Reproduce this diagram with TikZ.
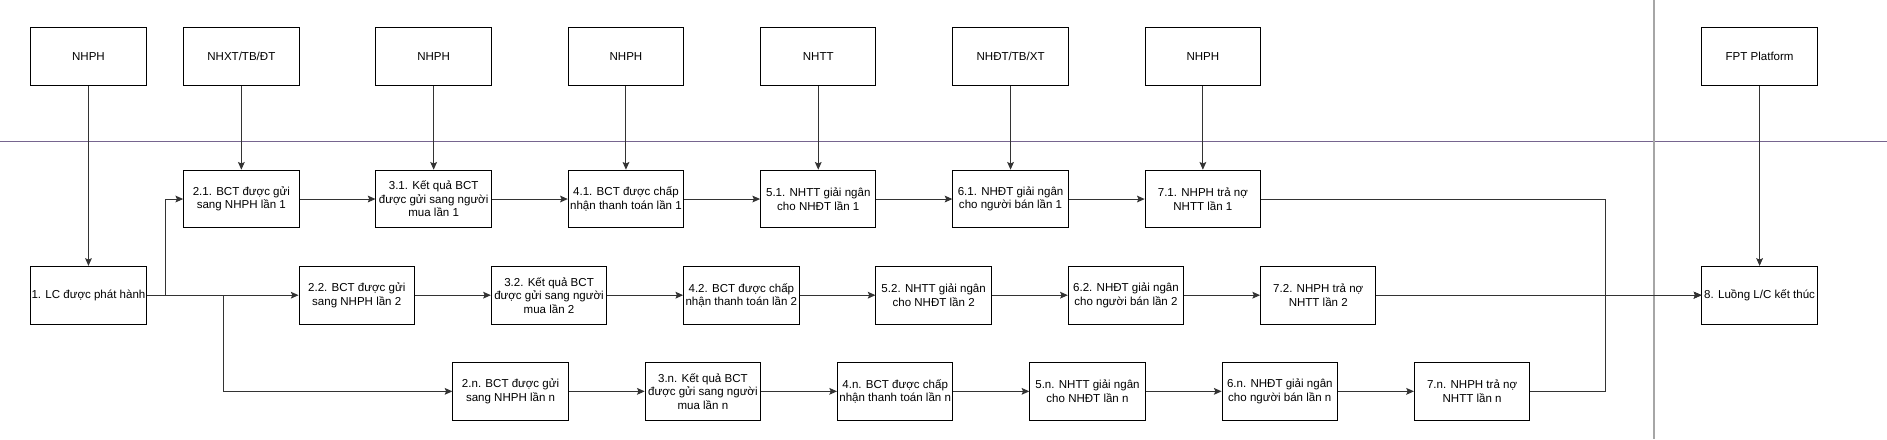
\documentclass[tikz,border=0pt]{standalone}
\usepackage{fontspec}
\setmainfont{Liberation Sans}
\usetikzlibrary{arrows.meta}
\definecolor{laneline}{HTML}{76658F}
\definecolor{divline}{HTML}{A6A6A6}
\tikzset{
  box/.style={draw=black, line width=1pt, minimum width=120pt, minimum height=60pt,
    inner sep=1pt, align=center, font=\fontsize{12pt}{14pt}\selectfont},
  conn/.style={draw=black!80, line width=1pt, -{Stealth[length=8pt,width=7pt,inset=1.5pt]}},
  plain/.style={draw=black!80, line width=1pt}
}
\begin{document}
\begin{tikzpicture}[x=1pt,y=-1pt]
\fill[white] (0,0) rectangle (1962.5,456.6);
\useasboundingbox (0,0) rectangle (1962.5,456.6);
% lane lines
\coordinate (hl1) at (0,147);
\coordinate (hl2) at (1962.5,147);
\coordinate (vl1) at (1720,0);
\coordinate (vl2) at (1720,456.6);
\draw[laneline, line width=1.2pt] (hl1) -- (hl2);
\draw[divline, line width=2pt] (vl1) -- (vl2);
% top row
\node[box] (t1) at (92,59) {NHPH};
\node[box] (t2) at (251,59) {NHXT/TB/ĐT};
\node[box] (t3) at (451,59) {NHPH};
\node[box] (t4) at (651,59) {NHPH};
\node[box] (t5) at (851,59) {NHTT};
\node[box] (t6) at (1051,59) {NHĐT/TB/XT};
\node[box] (t7) at (1251,59) {NHPH};
\node[box] (tf) at (1830,59) {FPT Platform};
% row 1
\node[box] (a2) at (251,207) {2.1. BCT được gửi\\sang NHPH lần 1};
\node[box] (a3) at (451,207) {3.1. Kết quả BCT\\được gửi sang người\\mua lần 1};
\node[box] (a4) at (651,207) {4.1. BCT được chấp\\nhận thanh toán lần 1};
\node[box] (a5) at (851,207) {5.1. NHTT giải ngân\\cho NHĐT lần 1};
\node[box] (a6) at (1051,207) {6.1. NHĐT giải ngân\\cho người bán lần 1};
\node[box] (a7) at (1251,207) {7.1. NHPH trả nợ\\NHTT lần 1};
% row 2
\node[box] (lc) at (92,307) {1. LC được phát hành};
\node[box] (b2) at (371,307) {2.2. BCT được gửi\\sang NHPH lần 2};
\node[box] (b3) at (571,307) {3.2. Kết quả BCT\\được gửi sang người\\mua lần 2};
\node[box] (b4) at (771,307) {4.2. BCT được chấp\\nhận thanh toán lần 2};
\node[box] (b5) at (971,307) {5.2. NHTT giải ngân\\cho NHĐT lần 2};
\node[box] (b6) at (1171,307) {6.2. NHĐT giải ngân\\cho người bán lần 2};
\node[box] (b7) at (1371,307) {7.2. NHPH trả nợ\\NHTT lần 2};
\node[box] (en) at (1830,307) {8. Luồng L/C kết thúc};
% row 3
\node[box] (c2) at (531,407) {2.n. BCT được gửi\\sang NHPH lần n};
\node[box] (c3) at (731,407) {3.n. Kết quả BCT\\được gửi sang người\\mua lần n};
\node[box] (c4) at (931,407) {4.n. BCT được chấp\\nhận thanh toán lần n};
\node[box] (c5) at (1131,407) {5.n. NHTT giải ngân\\cho NHĐT lần n};
\node[box] (c6) at (1331,407) {6.n. NHĐT giải ngân\\cho người bán lần n};
\node[box] (c7) at (1531,407) {7.n. NHPH trả nợ\\NHTT lần n};
% vertical arrows from top
\draw[conn] (t1) -- (lc);
\draw[conn] (t2) -- (a2);
\draw[conn] (t3) -- (a3);
\draw[conn] (t4) -- (a4);
\draw[conn] (t5) -- (a5);
\draw[conn] (t6) -- (a6);
\draw[conn] (t7) -- (a7);
\draw[conn] (tf) -- (en);
% branches from LC
\coordinate (s1) at (172,307);
\coordinate (s2) at (232,307);
\coordinate (m) at (1670,307);
\draw[conn] (lc.east) -- (s1) |- (a2.west);
\draw[conn] (lc.east) -- (b2.west);
\draw[conn] (lc.east) -- (s2) |- (c2.west);
% chains
\foreach \p/\q in {a2/a3,a3/a4,a4/a5,a5/a6,a6/a7,b2/b3,b3/b4,b4/b5,b5/b6,b6/b7,c2/c3,c3/c4,c4/c5,c5/c6,c6/c7}{
  \draw[conn] (\p) -- (\q);
}
% merge to end
\draw[conn] (a7.east) -| (m) -- (en.west);
\draw[conn] (b7.east) -- (en.west);
\draw[conn] (c7.east) -| (m) -- (en.west);
\end{tikzpicture}
\end{document}
